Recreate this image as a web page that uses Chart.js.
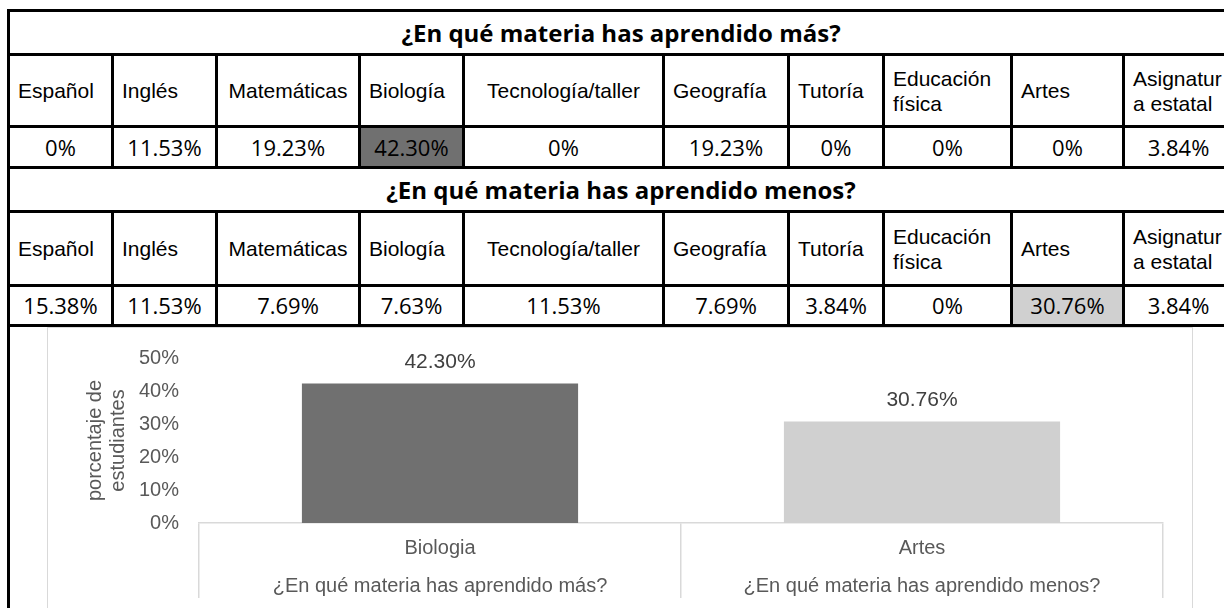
<!DOCTYPE html>
<html>
<head>
<meta charset="utf-8">
<script src="https://cdn.jsdelivr.net/npm/chart.js"></script>
<style>
  body { margin: 0; width: 1224px; height: 608px; overflow: hidden; background: #fff; position: relative; }
  #tabla { position: absolute; left: 7px; top: 9px; border-collapse: collapse; table-layout: fixed; width: 1225px; }
  #tabla td { border: 3px solid #000; padding: 0 0 0 8px; font-family: "Liberation Sans", Arial, sans-serif; font-size: 21px;
              line-height: 25px; white-space: pre-line; overflow: hidden; color: #000; }
  #tabla td.titulo { text-align: center; padding: 0; font-family: "Open Sans", sans-serif; font-weight: bold; font-size: 24px; }
  #tabla td.valor { text-align: center; padding: 0; font-family: "Open Sans", sans-serif; font-size: 22px; }
  #tabla td.centro { text-align: center; padding: 0; }
  #grafica { position: absolute; left: 47px; top: 327px; width: 1144px; height: 290px; border: 1px solid #d9d9d9; background: #fff; }
</style>
</head>
<body>
<table id="tabla"><colgroup id="columnas"></colgroup><tbody id="cuerpo"></tbody></table>
<div id="grafica"><canvas id="canvas"></canvas></div>
<script>
const materias = ['Español', 'Inglés', 'Matemáticas', 'Biología', 'Tecnología/taller', 'Geografía', 'Tutoría', 'Educación\nfísica', 'Artes', 'Asignatur\na estatal'];
const aprendidoMas = [0, 11.53, 19.23, 42.30, 0, 19.23, 0, 0, 0, 3.84];
const aprendidoMenos = [15.38, 11.53, 7.69, 7.63, 11.53, 7.69, 3.84, 0, 30.76, 3.84];
const preguntas = ['¿En qué materia has aprendido más?', '¿En qué materia has aprendido menos?'];

// chart data
const categorias = ['Biologia', 'Artes'];
const porcentajes = [42.30, 30.76];
const coloresBarras = ['#707070', '#d0d0d0'];
const ticksY = [0, 10, 20, 30, 40, 50];

const anchosColumnas = [104, 104, 143, 104, 200, 125, 95, 128, 112, 110];
const GRIS_TEXTO = '#595959';
const GRIS_LINEA = '#d9d9d9';

/**
 * Formats a percentage the way the table shows it (0% without decimals)
 */
function formatear(v) {
    return v === 0 ? '0%' : v.toFixed(2) + '%';
}

/**
 * Builds the two blocks of the table (title, subject names, values)
 */
function construirTabla() {
    const cols = document.getElementById('columnas');
    anchosColumnas.forEach(w => {
        const c = document.createElement('col');
        c.style.width = w + 'px';
        cols.appendChild(c);
    });

    const cuerpo = document.getElementById('cuerpo');
    const bloques = [aprendidoMas, aprendidoMenos];

    bloques.forEach((valores, b) => {
        const maximo = Math.max(...valores);

        let tr = cuerpo.insertRow();
        tr.style.height = '44px';
        let td = tr.insertCell();
        td.colSpan = materias.length;
        td.className = 'titulo';
        td.textContent = preguntas[b];

        tr = cuerpo.insertRow();
        tr.style.height = b === 0 ? '72px' : '74px';
        materias.forEach(m => {
            const c = tr.insertCell();
            c.textContent = m;
            if (m === 'Matemáticas' || m === 'Tecnología/taller') c.className = 'centro';
        });

        tr = cuerpo.insertRow();
        tr.style.height = b === 0 ? '41px' : '40px';
        valores.forEach(v => {
            const c = tr.insertCell();
            c.className = 'valor';
            c.textContent = formatear(v);
            if (v === maximo) c.style.background = coloresBarras[b];
        });
    });

    const tr = cuerpo.insertRow();
    tr.style.height = '300px';
    const td = tr.insertCell();
    td.colSpan = materias.length;
}

const etiquetasValor = {
    id: 'etiquetasValor',
    afterDatasetsDraw(chart) {
        const ctx = chart.ctx;
        const meta = chart.getDatasetMeta(0);
        ctx.save();
        ctx.font = '21px "Liberation Sans", Arial';
        ctx.fillStyle = '#404040';
        ctx.textAlign = 'center';
        ctx.textBaseline = 'middle';
        meta.data.forEach((bar, i) => {
            ctx.fillText(porcentajes[i].toFixed(2) + '%', bar.x, bar.y - 21);
        });
        ctx.restore();
    }
};

function construirGrafica() {
    new Chart(document.getElementById('canvas'), {
        type: 'bar',
        data: {
            labels: categorias.map((c, i) => [c, preguntas[i]]),
            datasets: [{
                data: porcentajes,
                backgroundColor: coloresBarras,
                barPercentage: 0.573,
                categoryPercentage: 1
            }]
        },
        options: {
            responsive: true,
            maintainAspectRatio: false,
            animation: false,
            layout: { padding: { top: 30, right: 29, left: 0, bottom: 0 } },
            plugins: { legend: { display: false }, tooltip: { enabled: false } },
            scales: {
                x: {
                    grid: { offset: true, drawOnChartArea: false, drawTicks: true, tickLength: 75, color: GRIS_LINEA, lineWidth: 1.5 },
                    border: { color: GRIS_LINEA, width: 1.5 },
                    ticks: {
                        padding: -69,
                        maxRotation: 0,
                        autoSkip: false,
                        color: GRIS_TEXTO,
                        font: { family: '"Liberation Sans", Arial', size: 20, lineHeight: 1.9 }
                    },
                    afterFit: s => { s.height = 95; }
                },
                y: {
                    min: ticksY[0],
                    max: ticksY[ticksY.length - 1],
                    grid: { display: false },
                    border: { display: false },
                    ticks: {
                        stepSize: ticksY[1] - ticksY[0],
                        padding: 12,
                        color: GRIS_TEXTO,
                        font: { family: '"Liberation Sans", Arial', size: 20 },
                        callback: v => v + '%'
                    },
                    title: {
                        display: true,
                        text: ['porcentaje de', 'estudiantes'],
                        color: GRIS_TEXTO,
                        font: { family: '"Liberation Sans", Arial', size: 20, lineHeight: 1.15 },
                        padding: { top: 36, bottom: 0 }
                    },
                    afterFit: s => { s.width = 151; }
                }
            }
        },
        plugins: [etiquetasValor]
    });
}

construirTabla();
construirGrafica();
</script>
</body>
</html>
